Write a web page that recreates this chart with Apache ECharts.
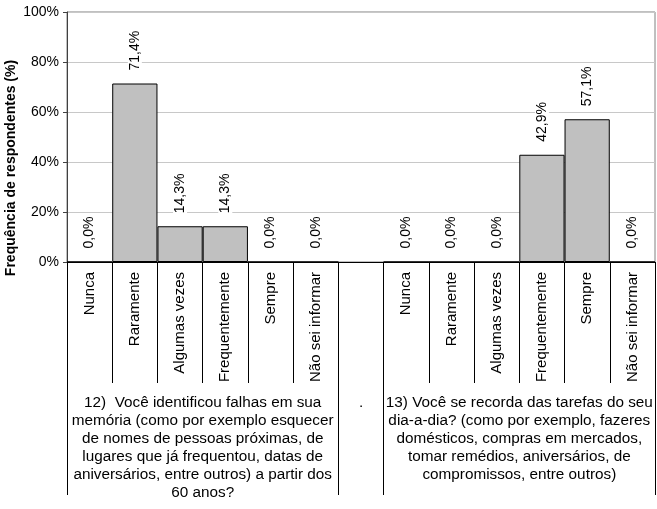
<!DOCTYPE html>
<html>
<head>
<meta charset="utf-8">
<script src="https://cdn.jsdelivr.net/npm/echarts@6/dist/echarts.min.js"></script>
<style>
  html, body { margin: 0; padding: 0; background: #fff; }
  #chart { width: 657px; height: 509px; }
</style>
</head>
<body>
<div id="chart"></div>
<script>
var categories = ['Nunca', 'Raramente', 'Algumas vezes', 'Frequentemente', 'Sempre', 'Não sei informar', '',
                  'Nunca', 'Raramente', 'Algumas vezes', 'Frequentemente', 'Sempre', 'Não sei informar'];
var values = [0, 71.4, 14.3, 14.3, 0, 0, null, 0, 0, 0, 42.9, 57.1, 0];
var groupLabels = [
    '12)  Você identificou falhas em sua\nmemória (como por exemplo esquecer\nde nomes de pessoas próximas, de\nlugares que já frequentou, datas de\naniversários, entre outros) a partir dos\n60 anos?',
    '.',
    '13) Você se recorda das tarefas do seu\ndia-a-dia? (como por exemplo, fazeres\ndomésticos, compras em mercados,\ntomar remédios, aniversários, de\ncompromissos, entre outros)'
];
var groupCenters = [3, 6.5, 10];
var groupBounds = [0, 6, 7, 13];
var catBounds = [0, 1, 2, 3, 4, 5, 6, 7, 8, 9, 10, 11, 12, 13];
var yTicks = [0, 20, 40, 60, 80, 100];

var font = "'Liberation Sans', Arial, sans-serif";
var chart = echarts.init(document.getElementById('chart'));

chart.setOption({
    animation: false,
    grid: {
        left: 67, right: 2, top: 12, bottom: 247,
        outerBoundsMode: 'none',
        containLabel: false,
        show: true, borderColor: '#808080', borderWidth: 1
    },
    xAxis: [{
        type: 'category',
        data: categories,
        axisLine: { lineStyle: { color: '#000' } },
        axisTick: { show: false },
        axisLabel: {
            rotate: 90, interval: 0, margin: 10,
            fontFamily: font, fontSize: 15, color: '#000'
        }
    }, {
        // category separators
        type: 'value',
        position: 'bottom',
        offset: 0,
        min: 0, max: 13,
        axisLine: { show: false },
        splitLine: { show: false },
        axisTick: {
            customValues: catBounds,
            length: 121,
            lineStyle: { color: '#000' }
        },
        axisLabel: { show: false }
    }, {
        // question groups
        type: 'value',
        position: 'bottom',
        offset: 121,
        min: 0, max: 13,
        axisLine: { show: false },
        splitLine: { show: false },
        axisTick: {
            customValues: groupBounds,
            length: 112,
            lineStyle: { color: '#000' }
        },
        axisLabel: {
            customValues: groupCenters,
            margin: 11,
            align: 'center',
            lineHeight: 18,
            fontFamily: font, fontSize: 15.3, color: '#000',
            formatter: function (v) {
                return groupLabels[groupCenters.indexOf(v)];
            }
        }
    }],
    yAxis: {
        type: 'value',
        min: 0, max: 100, interval: 20,
        name: 'Frequência de respondentes (%)',
        nameLocation: 'middle',
        nameGap: 49,
        nameMoveOverlap: false,
        nameTextStyle: {
            fontFamily: font, fontSize: 14, fontWeight: 'bold', color: '#000',
            padding: [0, 62, 0, 0]
        },
        axisLine: { show: true, lineStyle: { color: '#404040' } },
        axisTick: { show: true, length: 4, lineStyle: { color: '#404040' } },
        axisLabel: {
            fontFamily: font, fontSize: 14, color: '#000', margin: 8,
            formatter: function (v) { return yTicks.indexOf(v) >= 0 ? v + '%' : ''; }
        },
        splitLine: { lineStyle: { color: '#c8c8c8' } }
    },
    series: [{
        type: 'bar',
        data: values,
        barCategoryGap: 0,
        itemStyle: { color: '#c0c0c0', borderColor: '#000', borderWidth: 1 },
        label: {
            show: true,
            position: 'top',
            rotate: 90,
            align: 'left',
            verticalAlign: 'middle',
            distance: 10,
            backgroundColor: '#fff',
            padding: [0, 3],
            fontFamily: font, fontSize: 14, color: '#000',
            formatter: function (p) {
                return p.value.toFixed(1).replace('.', ',') + '%';
            }
        }
    }]
});
</script>
</body>
</html>
